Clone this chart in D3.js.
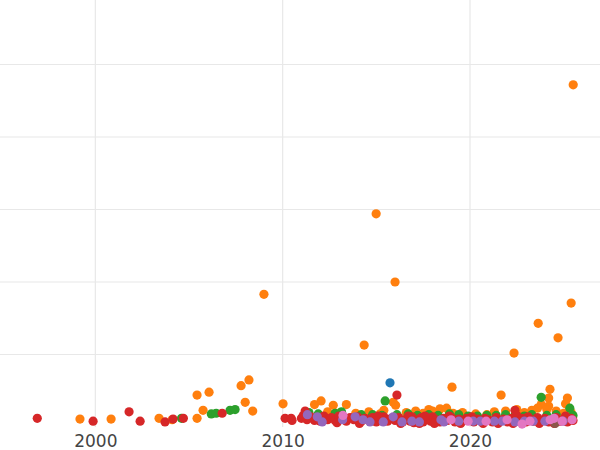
<!DOCTYPE html>
<html>
<head>
<meta charset="utf-8">
<script src="https://cdn.jsdelivr.net/npm/d3@7"></script>
<style>
  body { margin: 0; background: #fff; }
  svg { display: block; }
  .grid line { stroke: #e8e8e8; stroke-width: 1.2; }
  .xaxis text { font-family: "DejaVu Sans", sans-serif; font-size: 17px; fill: #444; }
</style>
</head>
<body>
<div id="chart"></div>
<script>
// [year, value] per series
const seriesNames = ["blue", "orange", "green", "red", "purple", "brown", "pink"];
const seriesColors = ["#1f77b4", "#ff7f0e", "#2ca02c", "#d62728", "#9467bd", "#8c564b", "#e377c2"];
const xTicks = [2000, 2010, 2020];
const yTicks = [1, 2, 3, 4, 5];

const blue = [[2015.73, 0.61]];

const orange = [
  [2025.51, 4.72], [2014.99, 2.94], [2016.00, 2.00], [2009.00, 1.83], [2014.35, 1.13],
  [2025.40, 1.71], [2023.64, 1.43], [2024.70, 1.23], [2022.35, 1.02], [2019.04, 0.55],
  [2021.66, 0.44], [2024.27, 0.52], [2025.20, 0.40], [2024.20, 0.40], [2007.78, 0.57],
  [2008.20, 0.65], [2005.43, 0.44], [2006.07, 0.48], [2005.75, 0.23], [2008.00, 0.34],
  [2008.40, 0.22], [2010.02, 0.32], [1999.18, 0.11], [2000.84, 0.11], [2003.40, 0.12],
  [2004.10, 0.10], [2005.43, 0.12], [2011.70, 0.31], [2012.05, 0.36], [2012.70, 0.30],
  [2013.40, 0.31], [2015.90, 0.34], [2015.40, 0.23], [2016.03, 0.30], [2017.80, 0.24],
  [2018.00, 0.22], [2018.40, 0.25], [2018.75, 0.26], [2019.60, 0.20], [2021.90, 0.22],
  [2022.50, 0.24], [2023.80, 0.31], [2024.20, 0.29], [2024.10, 0.24], [2025.10, 0.32],
  [2025.40, 0.20], [2011.30, 0.19], [2012.40, 0.21], [2013.10, 0.20], [2013.90, 0.19],
  [2014.60, 0.21], [2015.20, 0.18], [2016.60, 0.20], [2017.10, 0.22], [2017.50, 0.19],
  [2019.10, 0.19], [2020.30, 0.18], [2020.90, 0.17], [2021.30, 0.21], [2022.90, 0.20],
  [2023.30, 0.23], [2023.60, 0.26], [2024.60, 0.22], [2025.00, 0.19]
];

const green = [
  [2004.60, 0.12], [2006.19, 0.18], [2006.45, 0.19], [2007.19, 0.23], [2007.46, 0.24],
  [2011.40, 0.20], [2011.90, 0.18], [2012.80, 0.19], [2013.14, 0.21], [2014.20, 0.17],
  [2014.80, 0.17], [2015.47, 0.36], [2015.30, 0.16], [2016.10, 0.17], [2016.70, 0.18],
  [2017.20, 0.16], [2017.80, 0.17], [2018.30, 0.16], [2018.90, 0.18], [2019.40, 0.17],
  [2019.90, 0.15], [2020.40, 0.15], [2020.90, 0.16], [2021.40, 0.16], [2021.90, 0.17],
  [2022.40, 0.16], [2022.90, 0.15], [2023.30, 0.17], [2023.80, 0.41], [2024.10, 0.16],
  [2024.60, 0.17], [2025.33, 0.26], [2025.50, 0.16]
];

const red = [
  [1996.90, 0.12], [1999.88, 0.08], [2001.80, 0.21], [2002.39, 0.08], [2003.72, 0.07],
  [2004.15, 0.11], [2004.70, 0.12], [2006.77, 0.19], [2010.13, 0.12], [2010.45, 0.12],
  [2010.50, 0.09],
  [2011.00, 0.12], [2011.20, 0.22], [2011.30, 0.10], [2011.50, 0.14], [2011.70, 0.09],
  [2011.90, 0.12], [2012.00, 0.08], [2012.20, 0.15], [2012.40, 0.10], [2012.60, 0.13],
  [2012.80, 0.09], [2013.00, 0.15], [2013.20, 0.11], [2013.40, 0.08], [2013.60, 0.13],
  [2013.80, 0.10], [2014.00, 0.14], [2014.20, 0.08], [2014.40, 0.12], [2014.60, 0.09],
  [2014.80, 0.13], [2015.00, 0.07], [2015.20, 0.11], [2015.40, 0.14], [2015.60, 0.08],
  [2015.80, 0.12], [2016.00, 0.09], [2016.10, 0.44], [2016.20, 0.13], [2016.40, 0.07],
  [2016.60, 0.11], [2016.80, 0.08], [2016.90, 0.14], [2017.00, 0.06], [2017.20, 0.10],
  [2017.40, 0.13], [2017.50, 0.07], [2017.70, 0.11], [2017.90, 0.08], [2018.00, 0.14],
  [2018.20, 0.10], [2018.40, 0.07], [2018.60, 0.12], [2018.80, 0.09], [2019.00, 0.13],
  [2019.20, 0.07], [2019.40, 0.11], [2019.60, 0.08], [2019.80, 0.12], [2020.00, 0.09],
  [2020.20, 0.07], [2020.40, 0.11], [2020.60, 0.08], [2020.80, 0.12], [2021.00, 0.10],
  [2021.20, 0.07], [2021.40, 0.13], [2021.60, 0.09], [2021.80, 0.11], [2022.00, 0.07],
  [2022.20, 0.12], [2022.40, 0.23], [2022.50, 0.16], [2022.60, 0.09], [2022.80, 0.12],
  [2023.00, 0.07], [2023.20, 0.11], [2023.40, 0.08], [2023.60, 0.13], [2023.80, 0.09],
  [2024.00, 0.12], [2024.20, 0.07], [2024.40, 0.10], [2024.60, 0.13], [2024.80, 0.08],
  [2025.00, 0.11], [2025.20, 0.07], [2025.40, 0.12], [2025.50, 0.09],
  [2011.10, 0.16], [2012.90, 0.06], [2014.10, 0.05], [2015.10, 0.15], [2016.30, 0.05],
  [2016.70, 0.15], [2017.30, 0.05], [2017.60, 0.15], [2018.10, 0.05], [2018.90, 0.15],
  [2019.50, 0.05], [2020.10, 0.14], [2020.70, 0.05], [2021.50, 0.05], [2022.30, 0.05],
  [2023.10, 0.14], [2023.70, 0.05], [2024.50, 0.05], [2025.10, 0.15]
];

const purple = [
  [2011.32, 0.17], [2011.85, 0.14], [2012.11, 0.07], [2013.20, 0.10], [2013.87, 0.14],
  [2014.29, 0.10], [2014.66, 0.07], [2015.37, 0.07], [2015.90, 0.14], [2016.37, 0.07],
  [2016.90, 0.08], [2017.30, 0.07], [2018.45, 0.10], [2018.61, 0.07], [2019.40, 0.08],
  [2020.17, 0.08], [2020.55, 0.08], [2021.30, 0.08], [2021.72, 0.08], [2022.40, 0.07],
  [2022.90, 0.08], [2023.37, 0.08], [2024.00, 0.08], [2024.97, 0.08]
];

const brown = [[2024.54, 0.05]];

const pink = [
  [2013.22, 0.16], [2018.99, 0.10], [2019.90, 0.08], [2020.86, 0.08], [2021.98, 0.10],
  [2022.78, 0.04], [2023.20, 0.08], [2024.28, 0.10], [2024.49, 0.12], [2024.92, 0.08],
  [2025.45, 0.10]
];

const allSeries = [blue, orange, green, red, purple, brown, pink];

const width = 600, height = 450;
const plotBottom = 427;

const x = d3.scaleLinear().domain([1994.91, 2026.94]).range([0, width]);
const y = d3.scaleLinear().domain([0, 5.89]).range([plotBottom, 0]);

const svg = d3.select("#chart").append("svg")
    .attr("width", width)
    .attr("height", height);

// gridlines
svg.append("g")
    .attr("class", "grid")
    .selectAll("line.h")
    .data(yTicks)
    .enter().append("line")
      .attr("x1", 0).attr("x2", width)
      .attr("y1", d => y(d))
      .attr("y2", d => y(d));

svg.append("g")
    .attr("class", "grid")
    .selectAll("line.v")
    .data(xTicks)
    .enter().append("line")
      .attr("y1", 0).attr("y2", plotBottom)
      .attr("x1", d => x(d))
      .attr("x2", d => x(d));

// x axis labels
const xAxis = svg.append("g")
    .attr("class", "xaxis")
    .attr("transform", `translate(0,${plotBottom})`)
    .call(d3.axisBottom(x).tickValues(xTicks).tickFormat(d3.format("d")).tickSize(0).tickPadding(6));
xAxis.select(".domain").remove();
xAxis.selectAll("text").attr("dy", "0.71em").attr("y", 8);

// points
allSeries.forEach((data, i) => {
  svg.append("g")
      .attr("class", "series " + seriesNames[i])
    .selectAll("circle")
    .data(data)
    .enter().append("circle")
      .attr("cx", d => x(d[0]))
      .attr("cy", d => y(d[1]))
      .attr("r", 4.6)
      .attr("fill", seriesColors[i]);
});
</script>
</body>
</html>
